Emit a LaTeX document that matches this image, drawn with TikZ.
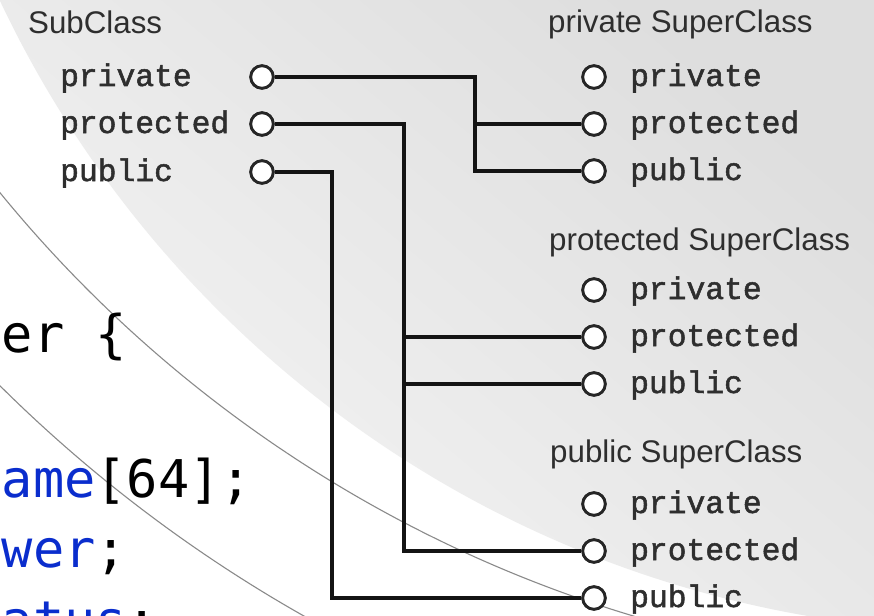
\documentclass[tikz,border=0pt]{standalone}
\usepackage{fontspec}
\setmainfont{Liberation Sans}
\newfontfamily\courfont[FakeBold=1.6]{Liberation Mono}
\newfontfamily\codefont{DejaVu Sans Mono}
\definecolor{inktext}{HTML}{2E2E2E}
\definecolor{codeblue}{RGB}{10,45,205}
\definecolor{arcgrey}{HTML}{8A8A8A}
\begin{document}
\begin{tikzpicture}[x=1pt,y=-1pt,
  heading/.style={anchor=base west,inner sep=0pt,text=inktext,
    font=\fontsize{31.3}{36}\selectfont},
  member/.style={anchor=base west,inner sep=0pt,text=inktext,
    font=\courfont\fontsize{31.3}{36}\selectfont},
  port/.style={circle,draw=black!85,fill=white,line width=2.8pt,
    minimum size=22.5pt,inner sep=0pt},
  conn/.style={draw=black!92,line width=4.5pt,line join=miter},
  codeline/.style={anchor=base west,inner sep=0pt,
    font=\codefont\fontsize{52}{60}\selectfont},
  thinarc/.style={draw=arcgrey,line width=1.1pt}]

% page area
\useasboundingbox (0,0) rectangle (874,615);
\fill[white] (0,0) rectangle (874,615);

% grey swoosh and thin decorative arcs of the slide background
\begin{scope}
  \clip (0,0) rectangle (874,615);
  \begin{scope}
    \clip (996,-469) circle (1101pt);
    \shade[top color=black!13,bottom color=black!4,shading angle=-40]
      (0,0) rectangle (874,615);
  \end{scope}
  \draw[thinarc] (1007,-629.5) circle (1300pt);
  \draw[thinarc] (1007,-629.5) circle (1430pt);
\end{scope}

% code fragment at the left edge
\node[codeline] (c1) at (1.5,352) {er \{};
\node[codeline] (c2) at (1.5,497) {{\color{codeblue}ame}[64];};
\node[codeline] (c3) at (1.5,567) {{\color{codeblue}wer};};
\node[codeline] (c4) at (1.5,638) {{\color{codeblue}atus};};

% headings
\node[heading] (hsub)  at (28,34)  {SubClass};
\node[heading] (hpriv) at (548,33) {private SuperClass};
\node[heading] (hprot) at (549,250) {protected SuperClass};
\node[heading] (hpub)  at (550,462) {public SuperClass};

% subclass members
\node[member] (tlpriv) at (60,86)  {private};
\node[member] (tlprot) at (60,133) {protected};
\node[member] (tlpub)  at (60,181) {public};
\node[port] (lpriv) at (262,77)  {};
\node[port] (lprot) at (262,124) {};
\node[port] (lpub)  at (262,172) {};

% superclass members
\foreach \g/\y in {a/77,b/290,c/504}{
  \node[port] (\g priv) at (594,\y) {};
  \node[port] (\g prot) at (594,\y+47) {};
  \node[port] (\g pub)  at (594,\y+94) {};
  \node[member] (t\g priv) at (630,\y+9)  {private};
  \node[member] (t\g prot) at (630,\y+56) {protected};
  \node[member] (t\g pub)  at (630,\y+103) {public};
}

% bus columns
\coordinate (busA) at (475,0);
\coordinate (busB) at (404,0);
\coordinate (busC) at (332,0);

% private inheritance
\draw[conn] (lpriv) -| (busA |- apub) -- (apub);
\draw[conn] (busA |- aprot) -- (aprot);
% protected inheritance
\draw[conn] (lprot) -| (busB |- cprot) -- (cprot);
\draw[conn] (busB |- bprot) -- (bprot);
\draw[conn] (busB |- bpub) -- (bpub);
% public inheritance
\draw[conn] (lpub) -| (busC |- cpub) -- (cpub);

% redraw ports over the line ends
\foreach \n in {lpriv,lprot,lpub,apriv,aprot,apub,bpriv,bprot,bpub,cpriv,cprot,cpub}
  \node[port] at (\n) {};
\end{tikzpicture}
\end{document}
